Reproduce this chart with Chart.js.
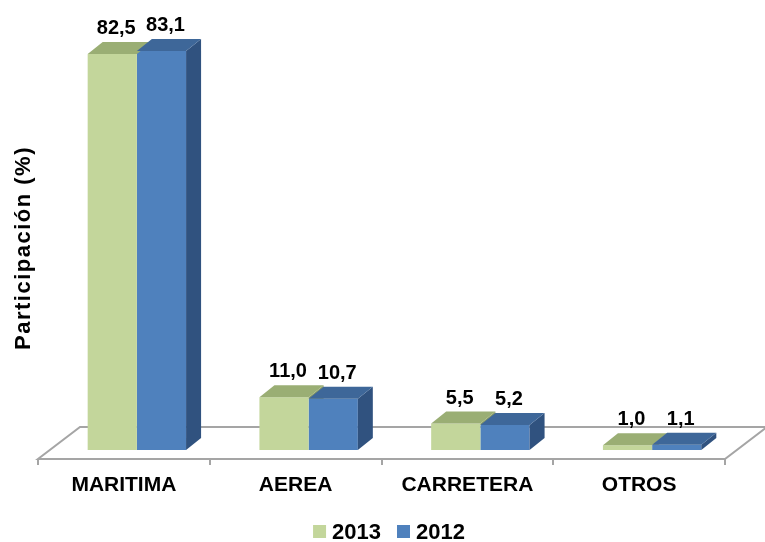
<!DOCTYPE html>
<html>
<head>
<meta charset="utf-8">
<script src="https://cdn.jsdelivr.net/npm/chart.js@4.4.1/dist/chart.umd.min.js"></script>
<style>
  html, body { margin: 0; padding: 0; background: #ffffff; }
  canvas { display: block; }
</style>
</head>
<body>
<canvas id="chart" width="765" height="542"></canvas>
<script>
const categories = ['MARITIMA', 'AEREA', 'CARRETERA', 'OTROS'];
const seriesNames = ['2013', '2012'];
const values2013 = [82.5, 11.0, 5.5, 1.0];
const values2012 = [83.1, 10.7, 5.2, 1.1];
const yTitle = 'Participación (%)';

const FONT = '"Liberation Sans", Arial, sans-serif';
const frontColors = ['#C3D69B', '#4F81BD'];
const topColors = ['#9AAE74', '#3E6799'];
const sideColors = ['#8A9C66', '#30527F'];
const DX = 15, DY = -12;      // bar depth
const SHIFT = 13;             // bars sit mid-way into the floor

function fmt(v) {
    return v.toFixed(1).replace('.', ',');
}

const floorPlugin = {
    id: 'floor3d',
    beforeDatasetsDraw(chart) {
        const ctx = chart.ctx;
        const x = chart.scales.x;
        const base = chart.scales.y.getPixelForValue(0);
        const frontY = base + 9, backY = base - 23, depth = 42;
        ctx.save();
        ctx.strokeStyle = '#A5A5A5';
        ctx.lineWidth = 2;
        ctx.beginPath();
        ctx.moveTo(x.left, frontY);
        ctx.lineTo(x.right, frontY);
        ctx.lineTo(x.right + depth, backY);
        ctx.lineTo(x.left + depth, backY);
        ctx.closePath();
        ctx.stroke();
        // ticks between categories
        const step = (x.right - x.left) / categories.length;
        ctx.beginPath();
        for (let i = 0; i <= categories.length; i++) {
            const tx = Math.round(x.left + step * i);
            ctx.moveTo(tx, frontY);
            ctx.lineTo(tx, frontY + 6);
        }
        ctx.stroke();
        ctx.restore();

        ctx.save();
        ctx.translate(SHIFT, 0);
    },
    afterDatasetsDraw(chart) {
        const ctx = chart.ctx;
        const metas = [chart.getDatasetMeta(0), chart.getDatasetMeta(1)];
        for (let i = 0; i < categories.length; i++) {
            for (let d = 0; d < metas.length; d++) {
                const bar = metas[d].data[i];
                const left = bar.x - bar.width / 2, right = bar.x + bar.width / 2;
                const top = bar.y, base = bar.base;
                // side face (only the part not hidden by the next bar)
                ctx.save();
                if (d < metas.length - 1) {
                    const next = metas[d + 1].data[i];
                    ctx.beginPath();
                    ctx.rect(0, 0, chart.width, next.y);
                    ctx.clip();
                }
                ctx.fillStyle = sideColors[d];
                ctx.beginPath();
                ctx.moveTo(right, top);
                ctx.lineTo(right + DX, top + DY);
                ctx.lineTo(right + DX, base + DY);
                ctx.lineTo(right, base);
                ctx.closePath();
                ctx.fill();
                ctx.restore();
                // top face
                ctx.fillStyle = topColors[d];
                ctx.beginPath();
                ctx.moveTo(left, top);
                ctx.lineTo(left + DX, top + DY);
                ctx.lineTo(right + DX, top + DY);
                ctx.lineTo(right, top);
                ctx.closePath();
                ctx.fill();
            }
        }
        // value labels
        ctx.fillStyle = '#000000';
        ctx.font = 'bold 20px ' + FONT;
        ctx.textAlign = 'center';
        ctx.textBaseline = 'alphabetic';
        for (let d = 0; d < metas.length; d++) {
            const vals = chart.data.datasets[d].data;
            metas[d].data.forEach((bar, i) => {
                ctx.fillText(fmt(vals[i]), bar.x + 4, bar.y + DY - 8);
            });
        }
        ctx.restore();
    },
    afterDraw(chart) {
        const ctx = chart.ctx;
        const x = chart.scales.x;
        ctx.save();
        ctx.fillStyle = '#000000';
        // category labels
        ctx.font = 'bold 21px ' + FONT;
        ctx.textAlign = 'center';
        ctx.textBaseline = 'alphabetic';
        categories.forEach((c, i) => {
            ctx.fillText(c, x.getPixelForValue(i), 491);
        });
        // y title
        ctx.save();
        ctx.translate(30, 248);
        ctx.rotate(-Math.PI / 2);
        ctx.font = 'bold 22px ' + FONT;
        ctx.letterSpacing = '1.5px';
        ctx.fillText(yTitle, 0, 0);
        ctx.restore();
        // legend
        ctx.font = 'bold 22px ' + FONT;
        ctx.textAlign = 'left';
        const box = 13, gap = 6, itemGap = 16;
        const widths = seriesNames.map(s => ctx.measureText(s).width);
        let total = 0;
        widths.forEach((w, i) => { total += box + gap + w + (i ? itemGap : 0); });
        let lx = 389 - total / 2;
        seriesNames.forEach((s, i) => {
            ctx.fillStyle = frontColors[i];
            ctx.fillRect(lx, 525, box, box);
            ctx.fillStyle = '#000000';
            ctx.fillText(s, lx + box + gap, 539);
            lx += box + gap + widths[i] + itemGap;
        });
        ctx.restore();
    }
};

const ctx = document.getElementById('chart').getContext('2d');
new Chart(ctx, {
    type: 'bar',
    data: {
        labels: categories,
        datasets: [{
            label: seriesNames[0],
            data: values2013,
            backgroundColor: frontColors[0],
            borderWidth: 0,
            categoryPercentage: 0.573,
            barPercentage: 1.0
        }, {
            label: seriesNames[1],
            data: values2012,
            backgroundColor: frontColors[1],
            borderWidth: 0,
            categoryPercentage: 0.573,
            barPercentage: 1.0
        }]
    },
    options: {
        responsive: false,
        animation: false,
        layout: {
            padding: { left: 38, right: 40, top: 18, bottom: 92 }
        },
        scales: {
            x: { display: false },
            y: { display: false, min: 0, max: 90 }
        },
        plugins: {
            legend: { display: false },
            tooltip: { enabled: false }
        }
    },
    plugins: [floorPlugin]
});
</script>
</body>
</html>
